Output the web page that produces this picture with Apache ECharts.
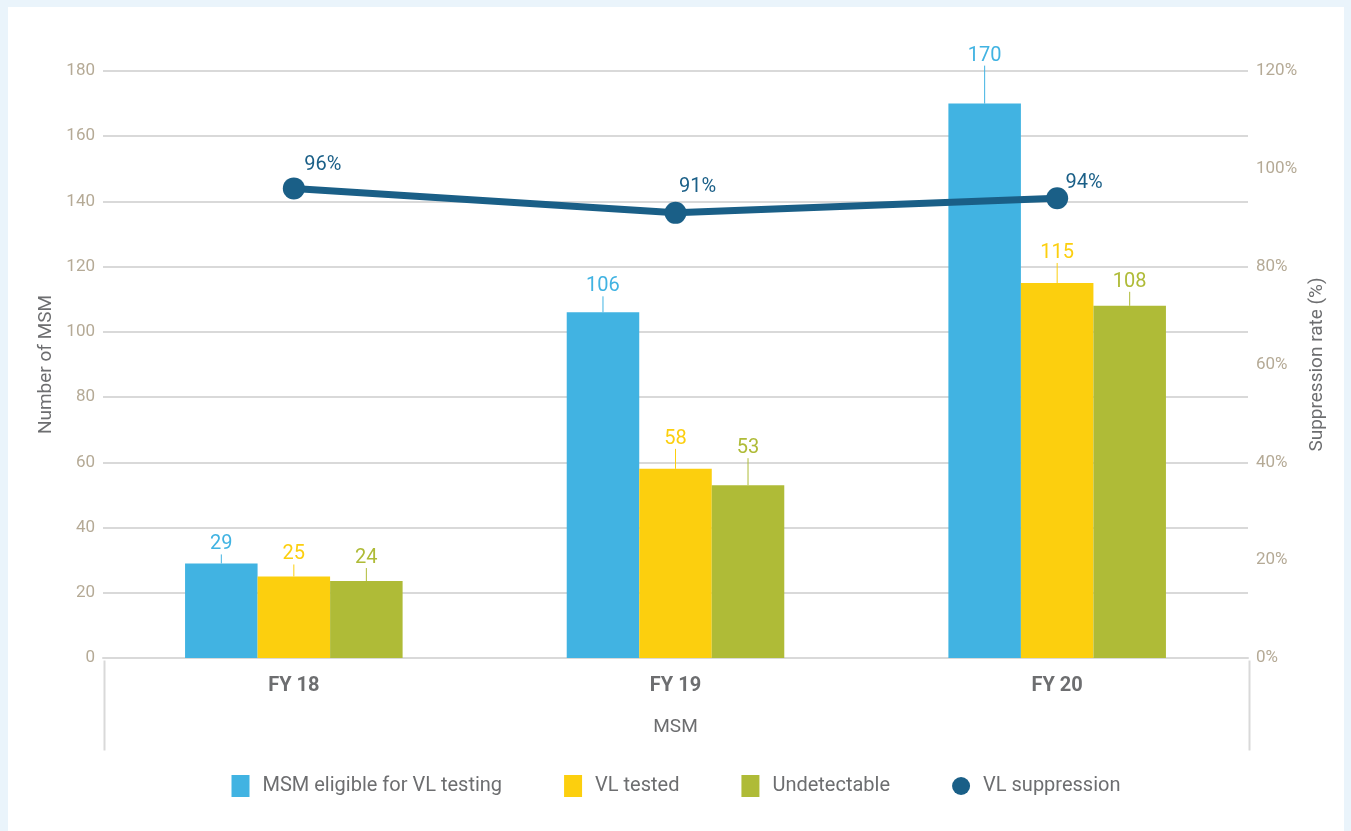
<!DOCTYPE html>
<html>
<head>
<meta charset="utf-8">
<script src="https://cdn.jsdelivr.net/npm/echarts@6/dist/echarts.min.js"></script>
<style>
html,body{margin:0;padding:0;background:#eaf4fb;width:1351px;height:831px;overflow:hidden;}
#c{position:absolute;left:8px;top:7px;width:1336px;height:824px;background:#ffffff;}
</style>
</head>
<body>
<div id="c"></div>
<script>
var categories = ['FY 18', 'FY 19', 'FY 20'];
var eligible = [29, 106, 170];
var tested = [25, 58, 115];
var undetectable = [23.6, 53, 108];
var suppression = [96, 91, 94];
var seriesNames = ['MSM eligible for VL testing', 'VL tested', 'Undetectable', 'VL suppression'];

// label lift (px) above each bar, per series
var liftEligible = [4, 11, 33];
var liftTested = [7, 15, 15];
var liftUndetectable = [8, 22, 9];
// line label offsets per point
var lineLabelOffsets = [[29, 3], [22, 0], [27, 11]];

var FONT = 'Roboto, "Open Sans", sans-serif';
var colors = ['#41b3e2', '#fccf0e', '#afbb37', '#1a5f87'];

function barSeries(name, data, color, lift) {
  return {
    name: name,
    type: 'bar',
    data: data,
    barGap: '0%',
    barCategoryGap: '43%',
    itemStyle: { color: color },
    label: {
      show: true,
      position: 'top',
      distance: 5,
      color: color,
      fontFamily: FONT,
      fontSize: 20,
      formatter: function (p) { return Math.round(p.value); }
    },
    labelLayout: function (p) { return { dy: -lift[p.dataIndex] }; },
    labelLine: { show: true, lineStyle: { color: color, width: 1 } }
  };
}

var lineData = suppression.map(function (v, i) {
  return { value: v, label: { offset: lineLabelOffsets[i] } };
});

var chart = echarts.init(document.getElementById('c'));
chart.setOption({
  backgroundColor: '#ffffff',
  textStyle: { fontFamily: FONT },
  grid: { left: 95, right: 96, top: 64, bottom: 173, containLabel: false },
  legend: {
    top: 763,
    left: 'center',
    itemWidth: 18,
    itemHeight: 22,
    itemGap: 62,
    textStyle: { color: '#6d6e70', fontSize: 20, fontFamily: FONT, padding: [0, 0, 0, 8] },
    data: [
      { name: seriesNames[0], icon: 'rect' },
      { name: seriesNames[1], icon: 'rect' },
      { name: seriesNames[2], icon: 'rect' },
      { name: seriesNames[3], icon: 'circle' }
    ]
  },
  xAxis: {
    type: 'category',
    data: categories,
    axisLine: { show: true, lineStyle: { color: '#d9d9d9', width: 2 } },
    axisTick: { show: false },
    axisLabel: { color: '#6d6e70', fontSize: 20, fontWeight: 'bold', margin: 18, fontFamily: FONT },
    name: 'MSM',
    nameLocation: 'middle',
    nameGap: 60,
    nameTextStyle: { color: '#6d6e70', fontSize: 19, fontFamily: FONT }
  },
  yAxis: [
    {
      type: 'value',
      min: 0, max: 180, interval: 20,
      axisLine: { show: false },
      axisTick: { show: false },
      axisLabel: { color: '#b5aa96', fontSize: 17, margin: 8, fontFamily: FONT },
      splitLine: { lineStyle: { color: '#d9d9d9', width: 2 } },
      name: 'Number of MSM',
      nameLocation: 'middle',
      nameGap: 47,
      nameRotate: 90,
      nameTextStyle: { color: '#6d6e70', fontSize: 19, fontFamily: FONT }
    },
    {
      type: 'value',
      min: 0, max: 120, interval: 20,
      position: 'right',
      axisLine: { show: false },
      axisTick: { show: false },
      axisLabel: { color: '#b5aa96', fontSize: 17, margin: 8, formatter: '{value}%', fontFamily: FONT },
      splitLine: { show: false },
      name: 'Suppression rate (%)',
      nameLocation: 'middle',
      nameGap: 58,
      nameRotate: 90,
      nameTextStyle: { color: '#6d6e70', fontSize: 19, fontFamily: FONT }
    }
  ],
  graphic: [
    { type: 'line', left: 94, top: 651, shape: { x1: 0, y1: 0, x2: 0, y2: 90 }, style: { stroke: '#d9d9d9', lineWidth: 2 } },
    { type: 'line', left: 1239, top: 651, shape: { x1: 0, y1: 0, x2: 0, y2: 90 }, style: { stroke: '#d9d9d9', lineWidth: 2 } }
  ],
  series: [
    barSeries(seriesNames[0], eligible, colors[0], liftEligible),
    barSeries(seriesNames[1], tested, colors[1], liftTested),
    barSeries(seriesNames[2], undetectable, colors[2], liftUndetectable),
    {
      name: seriesNames[3],
      type: 'line',
      yAxisIndex: 1,
      data: lineData,
      symbol: 'circle',
      symbolSize: 22,
      lineStyle: { color: colors[3], width: 7 },
      itemStyle: { color: colors[3] },
      z: 5,
      label: {
        show: true,
        position: 'top',
        color: colors[3],
        fontSize: 20,
        fontFamily: FONT,
        formatter: '{c}%'
      }
    }
  ]
});
</script>
</body>
</html>
